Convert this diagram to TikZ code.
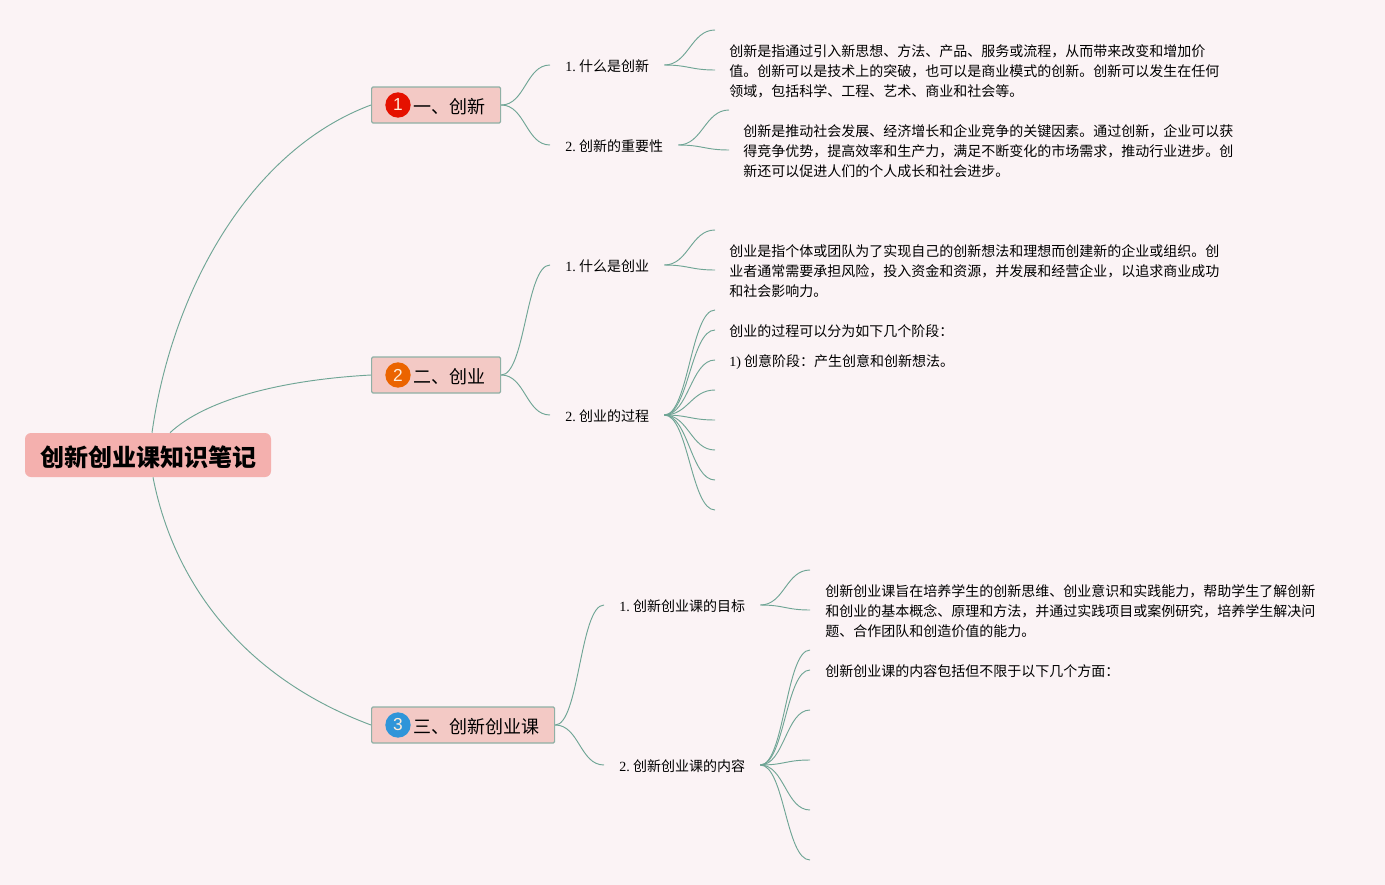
\documentclass[tikz,border=0pt]{standalone}
\usepackage{fontspec}
\setmainfont{Liberation Serif}
\newfontfamily\cjk{Noto Sans CJK SC}
\newfontfamily\badgefont{Liberation Sans}
\definecolor{pagebg}{HTML}{FBF3F5}
\definecolor{linkcol}{HTML}{6FA595}
\definecolor{rootfill}{HTML}{F4B0AE}
\definecolor{topicfill}{HTML}{F3C9C5}
\definecolor{topicedge}{HTML}{8FB0A5}
\tikzset{
  link/.style={draw=linkcol, line width=0.7pt},
  branch/.style={out=0, in=180, distance=18pt},
  root/.style={fill=rootfill, rounded corners=4.5pt, minimum width=184.5pt, minimum height=33pt, inner sep=0pt, font=\cjk\bfseries\fontsize{18}{22}\selectfont},
  topic/.style={draw=topicedge, line width=0.9pt, fill=topicfill, rounded corners=1pt, minimum height=27pt, inner xsep=11.25pt, inner ysep=0pt, anchor=west, font=\cjk\fontsize{13.5}{16}\selectfont},
  badge/.style={circle, minimum size=19pt, inner sep=0pt, text=white!85!orange, font=\badgefont\fontsize{13}{15}\selectfont},
  query/.style={inner xsep=11.25pt, inner ysep=2pt, anchor=west, font=\cjk\fontsize{10.5}{15}\selectfont},
  answer/.style={inner xsep=10.5pt, inner ysep=0pt, anchor=west, align=left, font=\cjk\fontsize{10.5}{15}\selectfont},
}
\newcommand{\gap}{\hspace*{20.25pt}}
\newcommand{\lift}[1]{\rule{0pt}{#1}}
\newcommand{\numlabel}[1]{{\rmfamily #1}\hspace{2.5pt}}
\begin{document}
\begin{tikzpicture}[x=0.75pt, y=-0.75pt]
\useasboundingbox (0,0) rectangle (1385,885);
\fill[pagebg] (0,0) rectangle (1385,885);
% Root and topics
\node[root] (root) at (148,455) {\lift{18.8pt}创新创业课知识笔记};
\node[topic] (topicA) at (371,105) {\lift{14.1pt}\gap 一、创新};
\node[topic] (topicB) at (371,375) {\lift{14.1pt}\gap 二、创业};
\node[topic] (topicC) at (371,725) {\lift{14.1pt}\gap 三、创新创业课};
\node[badge, fill=red!85!orange!90!black] (badgeA) at ([xshift=20.25pt]topicA.west) {1};
\node[badge, fill=orange!85!red!92!black] (badgeB) at ([xshift=20.25pt]topicB.west) {2};
\node[badge, fill=cyan!70!blue!85!white] (badgeC) at ([xshift=20.25pt]topicC.west) {3};
% Questions
\node[query] (whatA) at (550,65) {\lift{10.7pt}\numlabel{1.}什么是创新};
\node[query] (whyA) at (550,145) {\lift{10.7pt}\numlabel{2.}创新的重要性};
\node[query] (whatB) at (550,265) {\lift{10.7pt}\numlabel{1.}什么是创业};
\node[query] (howB) at (550,415) {\lift{10.7pt}\numlabel{2.}创业的过程};
\node[query] (goalC) at (604,605) {\lift{10.7pt}\numlabel{1.}创新创业课的目标};
\node[query] (whatC) at (604,765) {\lift{10.7pt}\numlabel{2.}创新创业课的内容};
% Answers
\node[answer] (ansA) at (715,70) {\lift{11.4pt}创新是指通过引入新思想、方法、产品、服务或流程，从而带来改变和增加价\\值。创新可以是技术上的突破，也可以是商业模式的创新。创新可以发生在任何\\领域，包括科学、工程、艺术、商业和社会等。};
\node[answer] (ansB) at (729,150) {\lift{11.4pt}创新是推动社会发展、经济增长和企业竞争的关键因素。通过创新，企业可以获\\得竞争优势，提高效率和生产力，满足不断变化的市场需求，推动行业进步。创\\新还可以促进人们的个人成长和社会进步。};
\node[answer] (ansC) at (715,270) {\lift{11pt}创业是指个体或团队为了实现自己的创新想法和理想而创建新的企业或组织。创\\业者通常需要承担风险，投入资金和资源，并发展和经营企业，以追求商业成功\\和社会影响力。};
\node[answer] (ansD) at (715,330) {\lift{11pt}创业的过程可以分为如下几个阶段：};
\node[answer] (ansE) at (715,360) {\lift{11.4pt}{\rmfamily 1)} 创意阶段：产生创意和创新想法。};
\node[answer, inner xsep=11.25pt] (ansF) at (810,610) {\lift{11.4pt}创新创业课旨在培养学生的创新思维、创业意识和实践能力，帮助学生了解创新\\和创业的基本概念、原理和方法，并通过实践项目或案例研究，培养学生解决问\\题、合作团队和创造价值的能力。};
\node[answer, inner xsep=11.25pt] (ansG) at (810,670) {\lift{11pt}创新创业课的内容包括但不限于以下几个方面：};
% Root links
\draw[link] ([xshift=3pt]root.north) .. controls (172,290) and (250,150) .. (topicA.west);
\draw[link] ([xshift=16.5pt]root.north) .. controls (205,400) and (280,380) .. (topicB.west);
\draw[link] ([xshift=3.75pt]root.south) .. controls (175,590) and (250,680) .. (topicC.west);
% Topic links
\foreach \src/\dst in {topicA/whatA, topicA/whyA, topicB/whatB, topicB/howB, topicC/goalC, topicC/whatC, whatA/ansA, whyA/ansB, whatB/ansC, howB/ansD, howB/ansE, goalC/ansF, whatC/ansG}
  \draw[link] (\src.east) to[branch] (\dst.west);
% Free ends
\foreach \src/\x/\ys in {whatA/715/30, whyA/729/110, whatB/715/230, howB/715/{310,390,420,450,480,510}, goalC/810/570, whatC/810/{650,710,760,810,860}}
  \foreach \y in \ys {
    \coordinate (end\y) at (\x,\y);
    \draw[link] (\src.east) to[branch] (end\y);
  }
\end{tikzpicture}
\end{document}
